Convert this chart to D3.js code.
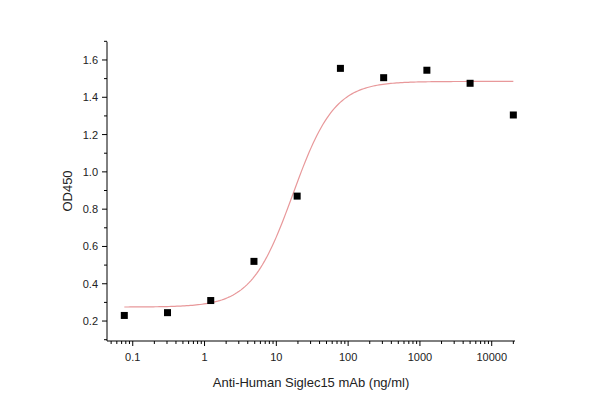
<!DOCTYPE html><html><head><meta charset="utf-8"><script src="https://cdn.jsdelivr.net/npm/d3@7"></script>
<style>body{margin:0;background:#fff}svg{font-family:"Liberation Sans",Arial,sans-serif}</style></head><body><svg width="608" height="412"></svg><script>
const conc=[0.0763,0.305,1.22,4.88,19.5,78.1,312.5,1250,5000,20000];
const od=[0.23,0.245,0.31,0.52,0.87,1.555,1.505,1.545,1.475,1.305];
const fit={bottom:0.275,top:1.485,ec50:17,hill:1.5};
const xTicks=[0.1,1,10,100,1000,10000];
const yTicks=[0.2,0.4,0.6,0.8,1.0,1.2,1.4,1.6];
const svg=d3.select("svg");
const x=d3.scaleLog().domain([0.0438,21100]).range([107,515]);
const y=d3.scaleLinear().domain([0.093,1.698]).range([341,41.7]);
const g=svg.append("g");
// minor x ticks
const minors=[];for(let e=-2;e<=4;e++)for(let m=1;m<10;m++){const v=m*Math.pow(10,e);if(v>=0.0438&&v<=21100&&m!==1)minors.push(v);}
const xa=g.append("g").attr("transform","translate(0,341)");
xa.append("line").attr("x1",107).attr("x2",515).attr("stroke","#000");
xa.selectAll(".mn").data(minors).join("line").attr("x1",d=>x(d)).attr("x2",d=>x(d)).attr("y2",3).attr("stroke","#000");
xa.selectAll(".mj").data(xTicks).join("line").attr("x1",d=>x(d)).attr("x2",d=>x(d)).attr("y2",5).attr("stroke","#000");
xa.selectAll("text").data(xTicks).join("text").attr("x",d=>x(d)).attr("y",20).attr("text-anchor","middle").attr("font-size",11).attr("fill","#222").text(d=>d);
const ya=g.append("g").attr("transform","translate(107,0)");
ya.append("line").attr("y1",41.7).attr("y2",341).attr("stroke","#000");
const yMin=d3.range(0.1,1.71,0.2);
ya.selectAll(".mn").data(yMin).join("line").attr("y1",d=>y(d)).attr("y2",d=>y(d)).attr("x2",-3).attr("stroke","#000");
ya.selectAll(".mj").data(yTicks).join("line").attr("y1",d=>y(d)).attr("y2",d=>y(d)).attr("x2",-5).attr("stroke","#000");
ya.selectAll("text").data(yTicks).join("text").attr("x",-9).attr("y",d=>y(d)+4).attr("text-anchor","end").attr("font-size",11).attr("fill","#222").text(d=>d.toFixed(1));
const f=c=>fit.bottom+(fit.top-fit.bottom)/(1+Math.pow(fit.ec50/c,fit.hill));
const cs=d3.range(0,201).map(i=>conc[0]*Math.pow(conc[9]/conc[0],i/200));
g.append("path").datum(cs).attr("d",d3.line().x(d=>x(d)).y(d=>y(f(d)))).attr("fill","none").attr("stroke","#e8989a").attr("stroke-width",1.2);
g.selectAll(".pt").data(conc).join("rect").attr("x",(d)=>x(d)-3.5).attr("y",(d,i)=>y(od[i])-3.5).attr("width",7).attr("height",7).attr("fill","#000");
svg.append("text").attr("x",311).attr("y",387).attr("text-anchor","middle").attr("font-size",13).attr("fill","#222").text("Anti-Human Siglec15 mAb (ng/ml)");
svg.append("text").attr("transform","translate(72,191) rotate(-90)").attr("text-anchor","middle").attr("font-size",13).attr("fill","#222").text("OD450");
</script></body></html>
